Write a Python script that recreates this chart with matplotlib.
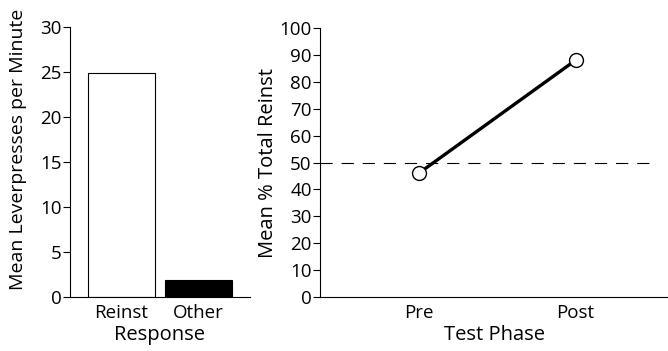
import numpy as np
import matplotlib.pyplot as plt

plt.rcParams['font.family'] = ['Open Sans', 'DejaVu Sans']

# data
responses = ["Reinst", "Other"]
leverpresses = [24.9, 1.9]
bar_colors = ["white", "black"]

phases = ["Pre", "Post"]
pct_reinst = [46, 88]
chance = 50

fig = plt.figure(figsize=(6.68, 3.51), dpi=100)

# left panel: bars
ax1 = fig.add_axes([70/668, 54/351, 180/668, 270/351])
x = np.arange(len(responses))
ax1.bar(x, leverpresses, width=0.87, color=bar_colors, edgecolor="black", linewidth=0.8)
ax1.set_xlim(-0.67, 1.67)
ax1.set_ylim(0, 30)
ax1.set_yticks(np.arange(0, 31, 5))
ax1.set_xticks(x)
ax1.set_xticklabels(responses)
ax1.set_xlabel("Response", fontsize=14.5, labelpad=2)
ax1.set_ylabel("Mean Leverpresses per Minute", fontsize=14)
ax1.yaxis.set_label_coords(-0.24, 0.545)

# right panel: line
ax2 = fig.add_axes([320/668, 54/351, 348/668, 269/351])
xp = np.arange(len(phases))
ax2.axhline(chance, xmax=0.965, color="black", linestyle=(0, (11, 8)), linewidth=0.8)
ax2.plot(xp, pct_reinst, color="black", linewidth=2.4, marker="o", markersize=10,
         markerfacecolor="white", markeredgecolor="black", markeredgewidth=1)
ax2.set_xlim(-0.63, 1.59)
ax2.set_ylim(0, 100)
ax2.set_yticks(np.arange(0, 101, 10))
ax2.set_xticks(xp)
ax2.set_xticklabels(phases)
ax2.set_xlabel("Test Phase", fontsize=14.5, labelpad=2)
ax2.set_ylabel("Mean % Total Reinst", fontsize=14.5, labelpad=1)

for ax in (ax1, ax2):
    for s in ("top", "right"):
        ax.spines[s].set_visible(False)
    ax.spines["left"].set_linewidth(0.8)
    ax.spines["bottom"].set_linewidth(0.8)
    ax.tick_params(axis="y", length=5, width=0.8, labelsize=13.5, pad=1)
    ax.tick_params(axis="x", length=0, labelsize=13.5, pad=5)

fig.savefig("out.png", dpi=100)
